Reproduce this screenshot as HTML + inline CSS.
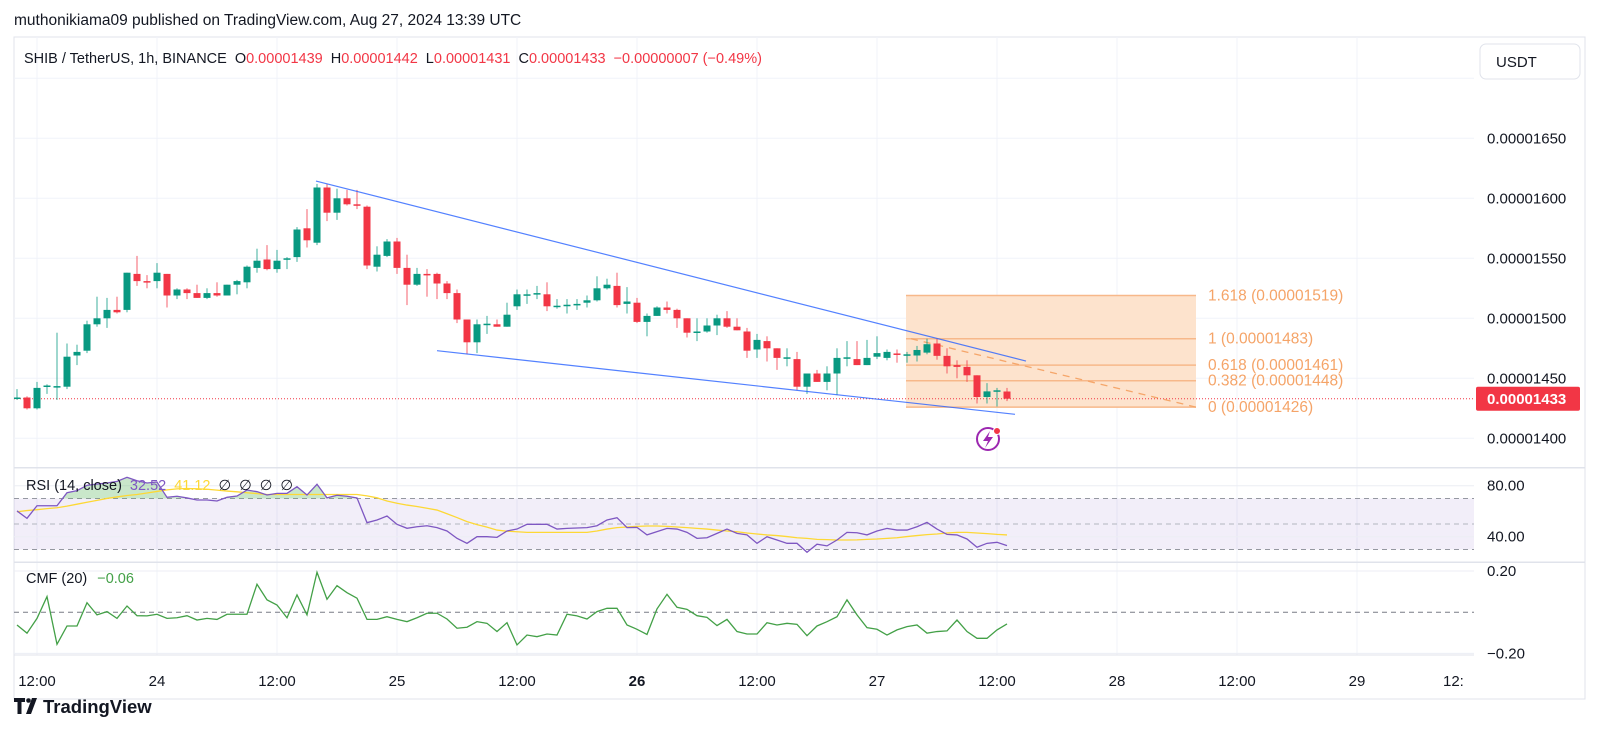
<!DOCTYPE html>
<html><head><meta charset="utf-8">
<style>
html,body{margin:0;padding:0;background:#fff;width:1600px;height:746px;overflow:hidden}
svg{display:block;font-family:"Liberation Sans",sans-serif}
</style></head>
<body>
<svg id="chart" width="1600" height="746" viewBox="0 0 1600 746" xmlns="http://www.w3.org/2000/svg">
<defs>
<clipPath id="cpPrice"><rect x="14" y="37" width="1460" height="430"/></clipPath>
<clipPath id="cpOb"><rect x="14" y="468" width="1460" height="30.5"/></clipPath>
<clipPath id="cpCmf"><rect x="14" y="563" width="1460" height="92"/></clipPath>
<clipPath id="cpAxis"><rect x="0" y="655" width="1474" height="44"/></clipPath>
</defs>
<text x="14" y="25" font-size="15.5" fill="#131722">muthonikiama09 published on TradingView.com, Aug 27, 2024 13:39 UTC</text>
<rect x="14" y="37" width="1571" height="662" fill="none" stroke="#e0e3eb"/>
<g id="grid"></g>
<g id="pricepane" clip-path="url(#cpPrice)"></g>
<g id="fiblabels"></g>
<g id="rsipane"></g>
<g id="cmfpane" clip-path="url(#cpCmf)"></g>
<g id="axes"></g>
<g font-size="14.5">
<text x="24" y="63" fill="#131722">SHIB / TetherUS, 1h, BINANCE<tspan dx="8" fill="#131722">O</tspan><tspan fill="#f23645">0.00001439</tspan><tspan dx="8" fill="#131722">H</tspan><tspan fill="#f23645">0.00001442</tspan><tspan dx="8" fill="#131722">L</tspan><tspan fill="#f23645">0.00001431</tspan><tspan dx="8" fill="#131722">C</tspan><tspan fill="#f23645">0.00001433</tspan><tspan dx="8" fill="#f23645">−0.00000007 (−0.49%)</tspan></text>
</g>
<g font-size="14.5">
<text x="26" y="490" fill="#131722">RSI (14, close)<tspan dx="8" fill="#7e57c2">32.52</tspan><tspan dx="8" fill="#fdd835">41.12</tspan><tspan dx="8" fill="#131722">∅</tspan><tspan dx="8" fill="#131722">∅</tspan><tspan dx="8" fill="#131722">∅</tspan><tspan dx="8" fill="#131722">∅</tspan></text>
</g>
<g font-size="14.5">
<text x="26" y="583" fill="#131722">CMF (20)<tspan dx="10" fill="#43a047">−0.06</tspan></text>
</g>
<g>
<rect x="1480" y="44" width="100" height="35" rx="6" fill="#fff" stroke="#e0e3eb"/>
<text x="1496" y="67" font-size="15" fill="#131722">USDT</text>
</g>
<g>
<circle cx="988" cy="439" r="11" fill="#fff" stroke="#9c27b0" stroke-width="2"/>
<path d="M990 431 L983 441 L988 441 L985 448 L993 437 L988 437 Z" fill="#9c27b0"/>
<circle cx="997" cy="431" r="3.5" fill="#f23645" stroke="#fff" stroke-width="1"/>
</g>
<g>
<path d="M14 698 h11 v4 h-3.5 v12 h-4 v-12 h-3.5 Z" fill="#131722"/>
<circle cx="28.5" cy="700.5" r="2.3" fill="#131722"/>
<path d="M32 698 h5 l-6 16 h-5 Z" fill="#131722"/>
<text x="43" y="713" font-size="18.5" font-weight="600" fill="#131722">TradingView</text>
</g>
</svg>
<script>
const opens=[1433,1434,1425,1443,1443,1443,1469,1473,1495,1500,1507,1507,1537,1531,1531,1537,1519,1524,1521,1517,1521,1519,1528,1530,1542,1549,1541,1549,1551,1575,1563,1609,1588,1600,1595,1593,1543,1552,1564,1542,1528,1537,1537,1529,1521,1499,1480,1495,1495,1493,1510,1519,1520,1520,1510,1511,1511.5,1513,1515,1525,1527,1512,1513,1497,1502,1509,1507,1500,1488.5,1489,1494,1500,1493,1489,1474,1481,1475,1467,1466,1443,1454,1447,1454,1467,1466,1461,1468,1467,1470.7,1469.5,1469,1471.4,1479,1468.7,1461,1459.5,1452.5,1434.4,1439,1439];
const highs=[1441,1435,1447,1445,1488,1479,1478,1498,1518,1517,1518,1538,1552,1536,1546,1537,1525,1525,1528,1525,1530,1528,1532,1544,1558,1561,1557,1551,1576,1591,1612,1612,1608,1607,1607,1594,1560,1566,1567,1553,1542,1541,1538,1531,1524,1499,1499,1502,1499,1513,1524,1524,1527,1530,1516,1516,1516,1519,1535,1533,1538,1526,1517,1504,1510,1514,1508,1500,1500,1500,1503,1506,1500,1492,1487,1485,1475,1475,1472,1454,1457,1460,1475,1481,1481,1482,1485,1474,1474,1472,1477,1483,1483,1475,1465,1465,1452.5,1446,1442,1442];
const lows=[1432,1424,1424,1437,1432,1441,1461,1471,1493,1492,1504,1505,1527,1525,1525,1509,1516,1516,1517,1516,1518,1519,1520,1525,1538,1540,1538,1541,1547,1559,1561,1581,1582,1594,1591,1541,1539,1551,1537,1511,1527,1518,1516,1516,1496,1470,1471,1487,1493,1493,1507,1512,1516,1506,1508,1504,1507,1509,1514,1524,1509,1504,1496,1485,1502,1504,1492,1484,1481,1488,1486,1492,1490,1467,1467,1464,1457,1460,1440,1437,1447,1440,1436,1460,1461,1461,1466,1465,1463,1463,1464,1470,1465.5,1454,1450,1447,1429,1429,1426.5,1431];
const closes=[1434,1425,1442,1444,1443.5,1468,1472,1495,1500,1507,1505,1538,1531,1530,1538,1519,1524,1521,1517,1521,1519,1528,1531,1543,1548,1541,1548,1550,1574,1565,1609,1588,1600,1595,1594,1544,1553,1564,1542,1528,1537,1536,1529,1521,1499,1480,1495,1495.5,1493,1503,1520,1520,1521,1510,1510.5,1511.3,1512,1515,1525,1528,1511,1514,1497,1502,1509,1507,1500,1488,1489,1494,1500,1493,1490,1473,1482,1475,1467,1467.5,1443,1454,1447,1454,1467,1467.5,1461,1467,1471,1472,1470,1470,1473.6,1478.4,1468.7,1460,1459.5,1452.5,1434.4,1439.1,1440,1433];
const rsiValues=[60.2,54.4,64.3,64.3,64.3,74.5,76.1,80.3,81.3,82.1,83.4,86.6,83.9,82.1,82.9,70.9,71.7,70.4,68.8,68.8,68,70.9,71.9,76.6,75.3,72.7,74,74,79.2,72.7,81.1,70.4,72.5,71.7,70.4,51,53.1,56.2,49.7,46.6,47.8,48.6,47.1,44.5,38.7,34.8,40,40,39.5,44.5,46,49.7,49.7,49.7,46,46.5,46.8,47.1,48.6,53.1,54.9,47.1,47.3,41.4,44,46.5,46,43.4,38.7,39.2,42.6,46,42.6,41.4,34.8,40,37.4,34.8,34.8,27.8,34.1,32.8,37.4,43.4,43.1,41.4,44.5,46.5,45.2,45.2,47.8,51.2,46,41.8,41.4,38.2,31.7,34.8,35.6,33];
const rsiMaValues=[59.6,60.5,61.2,62,62.7,64,65.5,67,68.5,70,71.2,72.3,73.1,74.3,75.5,76.7,77.5,77.8,77.6,77.2,76.5,75.8,75.2,74.5,73.8,73.1,73.1,73.1,73.1,73.1,73.1,73.1,73.1,73.1,73.1,72,70.5,68,66.2,64.8,63.7,62.3,60.9,58,55,51.8,49.5,47.5,45.2,44.3,43.9,43.4,43.4,43.4,43.4,43.4,43.4,43.4,44.5,46,47.1,47.6,48.1,48.4,48.4,48.1,47.6,47.1,46.5,46,45.2,44.5,43.9,42.9,42.1,41.4,40.9,40.1,39.2,38.7,37.9,37.7,37.4,37.4,37.5,37.9,38.2,38.7,39.2,40.1,40.9,41.6,42.1,42.9,43.4,43.4,42.9,42.4,41.8,41.4];
const cmfValues=[-0.062,-0.102,-0.030,0.076,-0.156,-0.067,-0.067,0.046,-0.013,0.003,-0.030,0.030,-0.017,-0.018,-0.010,-0.030,-0.027,-0.017,-0.038,-0.030,-0.035,-0.010,-0.010,-0.010,0.136,0.060,0.035,-0.027,0.084,-0.013,0.194,0.063,0.129,0.095,0.068,-0.035,-0.035,-0.022,-0.035,-0.046,-0.027,-0.005,-0.005,-0.033,-0.078,-0.073,-0.046,-0.054,-0.094,-0.051,-0.159,-0.111,-0.119,-0.106,-0.111,-0.010,-0.018,-0.033,0.003,0.019,0.019,-0.062,-0.083,-0.108,0.016,0.087,0.024,0.014,-0.017,-0.025,-0.065,-0.035,-0.094,-0.106,-0.106,-0.051,-0.062,-0.054,-0.059,-0.114,-0.067,-0.046,-0.022,0.060,-0.013,-0.075,-0.083,-0.111,-0.086,-0.070,-0.062,-0.102,-0.094,-0.091,-0.038,-0.094,-0.127,-0.127,-0.086,-0.057];
const priceTicks=[1400,1450,1500,1550,1600,1650,1700];
const priceTickLabels=["0.00001400","0.00001450","0.00001500","0.00001550","0.00001600","0.00001650",""];
const timeTickIndex=[2,14,26,38,50,62,74,86,98,110,122,134,146];
const timeTickLabels=["12:00","24","12:00","25","12:00","26","12:00","27","12:00","28","12:00","29","12:"];
const fibPrices=[1426,1448,1461,1483,1519];
const fibLabels=["0 (0.00001426)","0.382 (0.00001448)","0.618 (0.00001461)","1 (0.00001483)","1.618 (0.00001519)"];
const fibRange=[88.9,117.9];
const upperTrend=[[29.9,1614.4],[100.9,1464.4]];
const lowerTrend=[[42,1473],[99.8,1420]];
const lastPrice=1433;
const rsiLevels=[70,50,30];
const rsiTicks=[80,40];
const cmfTicks=[0.2,-0.2];

const NS="http://www.w3.org/2000/svg";
const xOf=i=>17+10*i;
const yP=p=>438.3-(p-1400)*1.2;
const yR=r=>536.7-(r-40)*1.275;
const yC=c=>612.2-c*205.75;
function mk(tag,attrs,parent){const e=document.createElementNS(NS,tag);for(const k in attrs)e.setAttribute(k,attrs[k]);parent.appendChild(e);return e;}
const grid=document.getElementById('grid');
const pp=document.getElementById('pricepane');
const fl=document.getElementById('fiblabels');
const rp=document.getElementById('rsipane');
const cp=document.getElementById('cmfpane');
const ax=document.getElementById('axes');

timeTickIndex.forEach(ti=>{const x=xOf(ti);if(x>1474)return;
 const l=mk('line',{x1:x,x2:x,y1:37,y2:655,stroke:'#f0f3fa','stroke-width':1},grid);
 
 
});
priceTicks.forEach(p=>{const y=yP(p);
 const l=mk('line',{x1:14,x2:1474,y1:y,y2:y,stroke:'#f0f3fa'},grid);
 
 
});
{const x1=xOf(fibRange[0]),x2=xOf(fibRange[1]);
 const yTop=yP(fibPrices[4]),yBot=yP(fibPrices[0]);
 const r=mk('rect',{x:x1,y:yTop,width:x2-x1,height:yBot-yTop,fill:'#fde3cd'},pp);
 
 
 fibPrices.forEach((p,k)=>{const y=yP(p);
  const l=mk('line',{x1:x1,x2:x2,y1:y,y2:y,stroke:'#f7b88a','stroke-width':1.5},pp);
  
  
  const t=mk('text',{x:x2+12,y:y+5,'font-size':15.5,fill:'#f5a468'},fl);
  t.textContent=fibLabels[k];
  
  
 });
 const d=mk('line',{x1:x1+5,y1:yP(fibPrices[3]),x2:x2,y2:yBot,stroke:'#f5a66a','stroke-width':1.3,'stroke-dasharray':'7 6'},pp);
 
 
}
{const y=yP(lastPrice);
 const l=mk('line',{x1:14,x2:1474,y1:y,y2:y,stroke:'#f23645','stroke-width':1,'stroke-dasharray':'1 2'},pp);
 
 
}
for(let i=0;i<opens.length;i++){
 const up=closes[i]>=opens[i];const col=up?'#089981':'#f23645';const x=xOf(i);
 const g=mk('g',{},pp);
 
 
 mk('line',{x1:x,x2:x,y1:yP(highs[i]),y2:yP(lows[i]),stroke:col,'stroke-width':1.3,opacity:0.6},g);
 const yt=yP(Math.max(opens[i],closes[i])),yb=yP(Math.min(opens[i],closes[i]));
 mk('rect',{x:x-3.5,y:yt,width:7,height:Math.max(1.5,yb-yt),fill:col},g);
}
[upperTrend,lowerTrend].forEach((tl,k)=>{
 const l=mk('line',{x1:xOf(tl[0][0]),y1:yP(tl[0][1]),x2:xOf(tl[1][0]),y2:yP(tl[1][1]),stroke:'#2962ff','stroke-width':1.2,opacity:0.8},pp);
 
 
});
priceTicks.forEach((p,k)=>{if(!priceTickLabels[k])return;
 const t=mk('text',{x:1487,y:yP(p)+5,'font-size':15,fill:'#131722'},ax);
 t.textContent=priceTickLabels[k];
 
 
});
{const y=yP(lastPrice);
 const r=mk('rect',{x:1476,y:y-12,width:104,height:24,fill:'#f23645',rx:2},ax);
 
 
 const t=mk('text',{x:1487,y:y+5.5,'font-size':15,fill:'#fff','font-weight':'bold'},ax);
 t.textContent='0.00001433';
 
 
}
[467.7,562.3].forEach(y=>{const l=mk('line',{x1:14,x2:1585,y1:y,y2:y,stroke:'#e0e3eb','stroke-width':1.5},ax);
 
 });
{const l=mk('line',{x1:14,x2:1474,y1:655,y2:655,stroke:'#e0e3eb'},ax);
 
 }
{const band=mk('rect',{x:14,y:yR(70),width:1460,height:yR(30)-yR(70),fill:'#7e57c2','fill-opacity':0.1},rp);
 
 
 rsiTicks.forEach(v=>{const l=mk('line',{x1:14,x2:1474,y1:yR(v),y2:yR(v),stroke:'#eceef4'},rp);
  
  });
 rsiLevels.forEach(v=>{const l=mk('line',{x1:14,x2:1474,y1:yR(v),y2:yR(v),stroke:v==50?'#b2b5be':'#9598a1','stroke-dasharray':'5 4'},rp);
  
  });
 const pts=rsiValues.map((v,i)=>xOf(i)+','+yR(v)).join(' ');
 const area=mk('polygon',{points:xOf(0)+','+yR(70)+' '+pts+' '+xOf(rsiValues.length-1)+','+yR(70),fill:'#4caf50','fill-opacity':0.3,'clip-path':'url(#cpOb)'},rp);
 
 
 const ma=mk('polyline',{points:rsiMaValues.map((v,i)=>xOf(i)+','+yR(v)).join(' '),fill:'none',stroke:'#fdd835','stroke-width':1.3},rp);
 
 
 const rl=mk('polyline',{points:pts,fill:'none',stroke:'#7e57c2','stroke-width':1.3},rp);
 
 
 rsiTicks.forEach(v=>{const t=mk('text',{x:1487,y:yR(v)+5,'font-size':15,fill:'#131722'},ax);
  t.textContent=v.toFixed(2);
  
  });
}
{cmfTicks.forEach(v=>{const l=mk('line',{x1:14,x2:1474,y1:yC(v),y2:yC(v),stroke:'#eceef4'},cp);
  
  });
 const z=mk('line',{x1:14,x2:1474,y1:yC(0),y2:yC(0),stroke:'#787b86','stroke-dasharray':'5 4'},cp);
 
 
 const cl=mk('polyline',{points:cmfValues.map((v,i)=>xOf(i)+','+yC(v)).join(' '),fill:'none',stroke:'#43a047','stroke-width':1.3},cp);
 
 
 cmfTicks.forEach(v=>{const t=mk('text',{x:1487,y:yC(v)+5,'font-size':15,fill:'#131722'},ax);
  t.textContent=(v<0?'−':'')+Math.abs(v).toFixed(2);
  
  });
}
{const g=mk('g',{'clip-path':'url(#cpAxis)'},ax);
 
 
 timeTickIndex.forEach((ti,k)=>{const lab=timeTickLabels[k];
  const t=mk('text',{x:xOf(ti),y:686,'font-size':15,fill:'#131722','text-anchor':lab=='12:'?'start':'middle','font-weight':lab=='26'?'bold':'normal'},g);
  if(lab=='12:')t.setAttribute('x',xOf(ti)-34);
  t.textContent=lab;
  
  
 });
}
</script>
</body></html>
